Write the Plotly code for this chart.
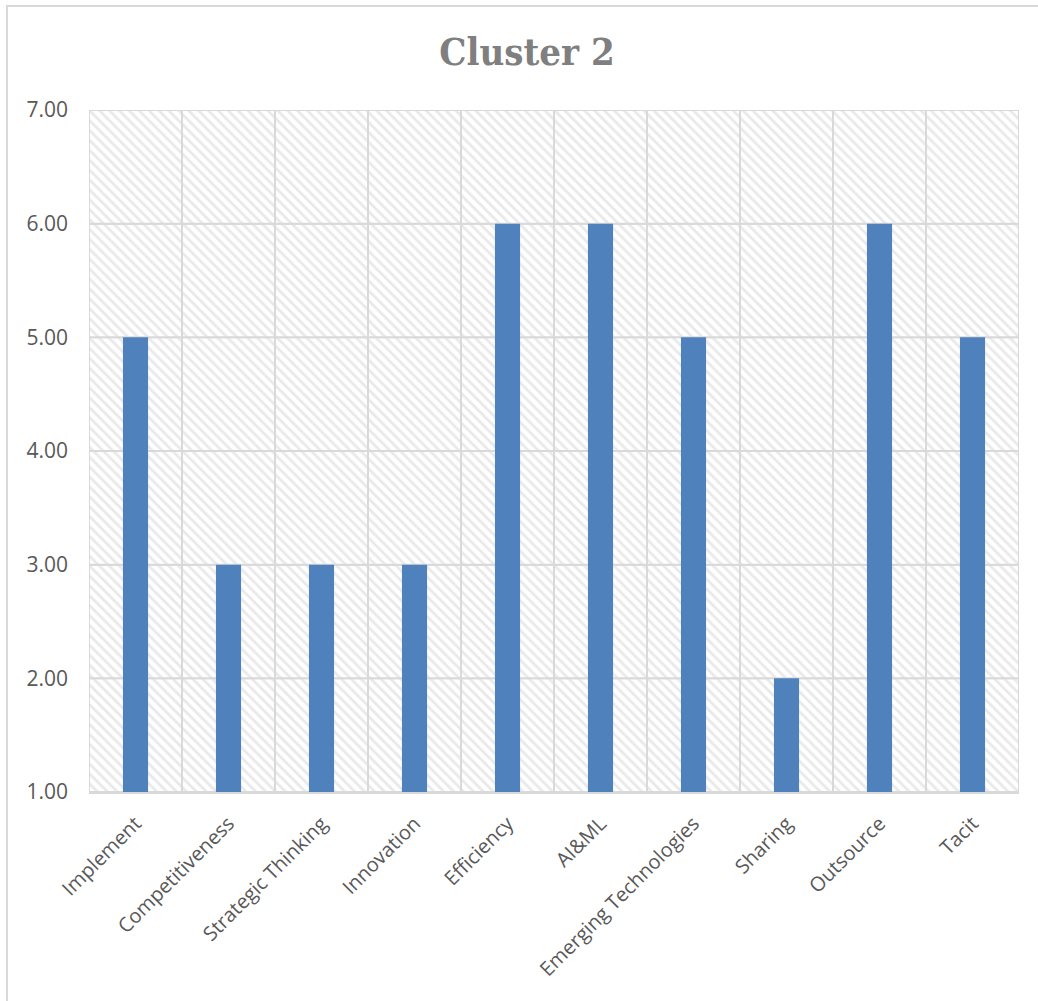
import plotly.graph_objects as go

categories = ["Implement", "Competitiveness", "Strategic Thinking", "Innovation", "Efficiency",
              "AI&ML", "Emerging Technologies", "Sharing", "Outsource", "Tacit"]
values = [5, 3, 3, 3, 6, 6, 5, 2, 6, 5]
y_min, y_max = 1, 7
y_ticks = [1, 2, 3, 4, 5, 6, 7]

fig = go.Figure()

# hatched plot-area background cells (outlined so that the grid shows, hidden behind the bars)
for lo in y_ticks[:-1]:
    fig.add_trace(go.Bar(
        x=categories, y=[1] * len(categories), base=lo, width=1,
        marker=dict(color="white", line=dict(width=2, color="#d9d9d9"),
                    pattern=dict(shape="\\", fgcolor="#d4d4d4", bgcolor="white", size=7, solidity=0.4)),
        hoverinfo="skip", showlegend=False,
    ))

fig.add_trace(go.Bar(
    x=categories, y=[v - y_min for v in values], base=y_min, width=0.27,
    marker=dict(color="#4f81bd", line=dict(width=0)),
    showlegend=False,
))

fig.update_layout(
    width=1038, height=1001,
    margin=dict(l=89, r=19, t=110, b=209),
    paper_bgcolor="white", plot_bgcolor="white",
    barmode="overlay",
    title=dict(text="<b>Cluster 2</b>", x=527 / 1038, xanchor="center", y=1 - 52 / 1001, yanchor="middle",
               font=dict(family="DejaVu Serif Condensed, Liberation Serif, serif", size=38, color="#7f7f7f")),
    font=dict(family="Open Sans, sans-serif", color="#595959", size=20),
    xaxis=dict(tickangle=-45, showgrid=False, showline=True, linecolor="#d9d9d9", linewidth=2,
               ticks="", tickfont=dict(size=20), ticklabelstandoff=10,
               range=[-0.5, len(categories) - 0.5]),
    yaxis=dict(range=[y_min, y_max], tickvals=y_ticks, tickformat=".2f", showgrid=False,
               zeroline=False, ticks="", tickfont=dict(size=21), ticklabelstandoff=20),
    shapes=[dict(type="rect", xref="paper", yref="paper", x0=-82/930, x1=1 + 40/930,
                 y0=-(209 + 40) / 682, y1=1 + 104/682, line=dict(color="#d9d9d9", width=2), layer="below")],
)

fig.write_html("out.html")
